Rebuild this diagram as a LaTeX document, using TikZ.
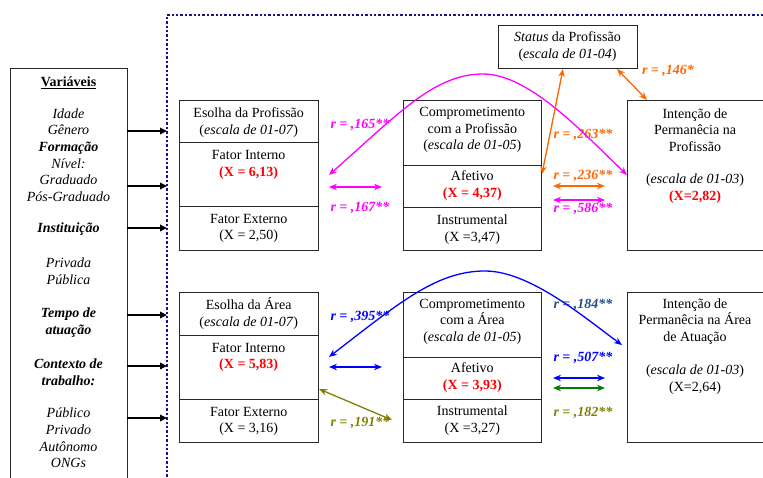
\documentclass[tikz,border=0pt]{standalone}
\usepackage{fontspec}
\setmainfont{Liberation Serif}
\usetikzlibrary{arrows.meta,fit}

\definecolor{dotblue}{RGB}{20,20,140}
\definecolor{rmag}{RGB}{255,0,255}
\definecolor{rorange}{RGB}{255,102,0}
\definecolor{rblue}{RGB}{0,0,255}
\definecolor{rolive}{RGB}{128,128,0}
\definecolor{rgreen}{RGB}{0,128,0}
\definecolor{rnavy}{RGB}{37,78,138}
\definecolor{meanred}{RGB}{255,0,0}
\definecolor{edge}{RGB}{40,40,40}

\newcommand{\meanval}[1]{\textcolor{meanred}{\textbf{#1}}}

\begin{document}
\begin{tikzpicture}[x=1pt,y=-1pt,
  cell/.style={draw=edge,line width=0.9pt,inner sep=0pt,outer sep=0pt},
  txt/.style={align=center,font=\fontsize{14}{16.6}\selectfont,inner sep=0pt},
  rlab/.style={font=\fontsize{14}{16.6}\selectfont\bfseries\itshape,inner sep=0pt},
  feed/.style={line width=1.7pt,-{Triangle[length=7pt,width=6.5pt]}},
  corr/.style={line width=1.3pt,{Stealth[length=8pt,width=6.5pt]}-{Stealth[length=8pt,width=6.5pt]}},
  divider/.style={draw=dotblue,line width=2.2pt,dash pattern=on 2.4pt off 2pt}
]
\useasboundingbox (0,0) rectangle (763,477);
\clip (0,0) rectangle (763,477);

% ---------- variables box ----------
\node[cell,fit={(10,68)(127,490)}] (vars) {};
\node[txt] (vtitle) at (68.5,83) {\underline{\textbf{Variáveis}}};
\node[txt] (vg1) at (68.5,155) {\textit{Idade}\\\textit{Gênero}\\\textbf{\textit{Formação}}\\\textit{Nível:}\\\textit{Graduado}\\\textit{Pós-Graduado}};
\node[txt] (vg2) at (68.5,229) {\textbf{\textit{Instituição}}};
\node[txt] (vg3) at (68.5,271.5) {\textit{Privada}\\\textit{Pública}};
\node[txt] (vg4) at (68.5,322.5) {\textbf{\textit{Tempo de}}\\\textbf{\textit{atuação}}};
\node[txt] (vg5) at (68.5,372) {\textbf{\textit{Contexto de}}\\\textbf{\textit{trabalho:}}};
\node[txt] (vg6) at (68.5,438) {\textit{Público}\\\textit{Privado}\\\textit{Autônomo}\\\textit{ONGs}};

% dotted frame of the model
\coordinate (fa) at (167,490);
\coordinate (fb) at (167,15);
\coordinate (fc) at (770,15);
\draw[divider] (fa) -- (fb) -- (fc);

% arrows from the variables into the model
\foreach \k/\yy in {1/131,2/186,3/228,4/315,5/366,6/418}{
  \coordinate (in\k) at (167,\yy);
  \draw[feed] (vars.east |- in\k) -- (in\k);
}

% ---------- profession block ----------
\node[cell,fit={(179.3,100)(318,142.7)}] (ep1) {};
\node[cell,fit={(179.3,142.7)(318,206.7)}] (ep2) {};
\node[cell,fit={(179.3,206.7)(318,250)}] (ep3) {};
\node[txt] (ep1t) at (248.7,122.5) {Esolha da Profissão\\(\textit{escala de 01-07})};
\node[txt] (ep2t) at (248.7,165) {Fator Interno\\\meanval{(X = 6,13)}};
\node[txt] (ep3t) at (248.7,228.5) {Fator Externo\\(X = 2,50)};

\node[cell,fit={(403,100)(541.7,165)}] (cp1) {};
\node[cell,fit={(403,165)(541.7,207)}] (cp2) {};
\node[cell,fit={(403,207)(541.7,250)}] (cp3) {};
\node[txt] (cp1t) at (472.3,130) {Comprometimento\\com a Profissão\\(\textit{escala de 01-05})};
\node[txt] (cp2t) at (472.3,185.5) {Afetivo\\\meanval{(X = 4,37)}};
\node[txt] (cp3t) at (472.3,229.5) {Instrumental\\(X =3,47)};

\node[cell,fit={(498,25)(637,68)}] (st) {};
\node[txt] (stt) at (567.5,46.5) {\textit{Status} da Profissão\\(\textit{escala de 01-04})};

\node[cell,fit={(627,100)(770,250)}] (ip) {};
\node[txt] (ipt1) at (695,130) {Intenção de\\Permanêcia na\\Profissão};
\node[txt] (ipt2) at (695,188.5) {(\textit{escala de 01-03})\\\meanval{(X=2,82)}};

% ---------- area block ----------
\node[cell,fit={(179.3,292.7)(318,335)}] (ea1) {};
\node[cell,fit={(179.3,335)(318,399)}] (ea2) {};
\node[cell,fit={(179.3,399)(318,442)}] (ea3) {};
\node[txt] (ea1t) at (248.7,313.5) {Esolha da Área\\(\textit{escala de 01-07})};
\node[txt] (ea2t) at (248.7,357.5) {Fator Interno\\\meanval{(X = 5,83)}};
\node[txt] (ea3t) at (248.7,421.5) {Fator Externo\\(X = 3,16)};

\node[cell,fit={(403,292.7)(541.7,357)}] (ca1) {};
\node[cell,fit={(403,357)(541.7,399)}] (ca2) {};
\node[cell,fit={(403,399)(541.7,442)}] (ca3) {};
\node[txt] (ca1t) at (472.3,321.5) {Comprometimento\\com a Área\\(\textit{escala de 01-05})};
\node[txt] (ca2t) at (472.3,377.5) {Afetivo\\\meanval{(X = 3,93)}};
\node[txt] (ca3t) at (472.3,420.5) {Instrumental\\(X =3,27)};

\node[cell,fit={(627,292.7)(770,442)}] (ia) {};
\node[txt] (iat1) at (695,321.5) {Intenção de\\Permanêcia na Área\\de Atuação};
\node[txt] (iat2) at (695,379.5) {(\textit{escala de 01-03})\\(X=2,64)};

% ---------- correlation labels ----------
\node[rlab,text=rmag]    (l165) at (360,125) {r = ,165**};
\node[rlab,text=rmag]    (l167) at (360,208) {r = ,167**};
\node[rlab,text=rorange] (l263) at (583,135) {r = ,263**};
\node[rlab,text=rorange] (l146) at (668,71)  {r = ,146*};
\node[rlab,text=rorange] (l236) at (583,176) {r = ,236**};
\node[rlab,text=rmag]    (l586) at (583,209) {r = ,586**};
\node[rlab,text=rblue]   (l395) at (360,317) {r = ,395**};
\node[rlab,text=rolive]  (l191) at (360,423) {r = ,191**};
\node[rlab,text=rnavy]   (l184) at (583,305) {r = ,184**};
\node[rlab,text=rblue]   (l507) at (583,358) {r = ,507**};
\node[rlab,text=rolive]  (l182) at (583,413) {r = ,182**};

% ---------- correlation connectors: profession ----------
\coordinate (pm1) at (329,175);
\coordinate (pm2) at (627,175);
\draw[corr,rmag] (pm1) .. controls (400,112) and (435,74) .. (483,74)
                       .. controls (530,74) and (585,135) .. (pm2);
\coordinate (ph1) at (329,187);
\coordinate (ph2) at (382,187);
\draw[corr,rmag] (ph1) -- (ph2);
\coordinate (so1) at (563,69);
\coordinate (so2) at (542,174);
\draw[corr,rorange] (so1) -- (so2);
\coordinate (sr1) at (617,69);
\coordinate (sr2) at (647,100);
\draw[corr,rorange] (sr1) -- (sr2);
\coordinate (ao1) at (553,186);
\coordinate (ao2) at (605,186);
\draw[corr,rorange] (ao1) -- (ao2);
\coordinate (am1) at (553,200);
\coordinate (am2) at (605,200);
\draw[corr,rmag] (am1) -- (am2);

% ---------- correlation connectors: area ----------
\coordinate (bc1) at (329,357);
\coordinate (bc2) at (622,345);
\draw[corr,rblue] (bc1) .. controls (400,302) and (437,271) .. (485,271)
                        .. controls (530,271) and (585,318) .. (bc2);
\coordinate (bh1) at (329,367);
\coordinate (bh2) at (382,367);
\draw[corr,rblue] (bh1) -- (bh2);
\coordinate (bo1) at (319,389);
\coordinate (bo2) at (392,420);
\draw[corr,rolive] (bo1) -- (bo2);
\coordinate (bb1) at (553,378);
\coordinate (bb2) at (605,378);
\draw[corr,rblue] (bb1) -- (bb2);
\coordinate (bg1) at (553,388);
\coordinate (bg2) at (605,388);
\draw[corr,rgreen] (bg1) -- (bg2);
\end{tikzpicture}
\end{document}
